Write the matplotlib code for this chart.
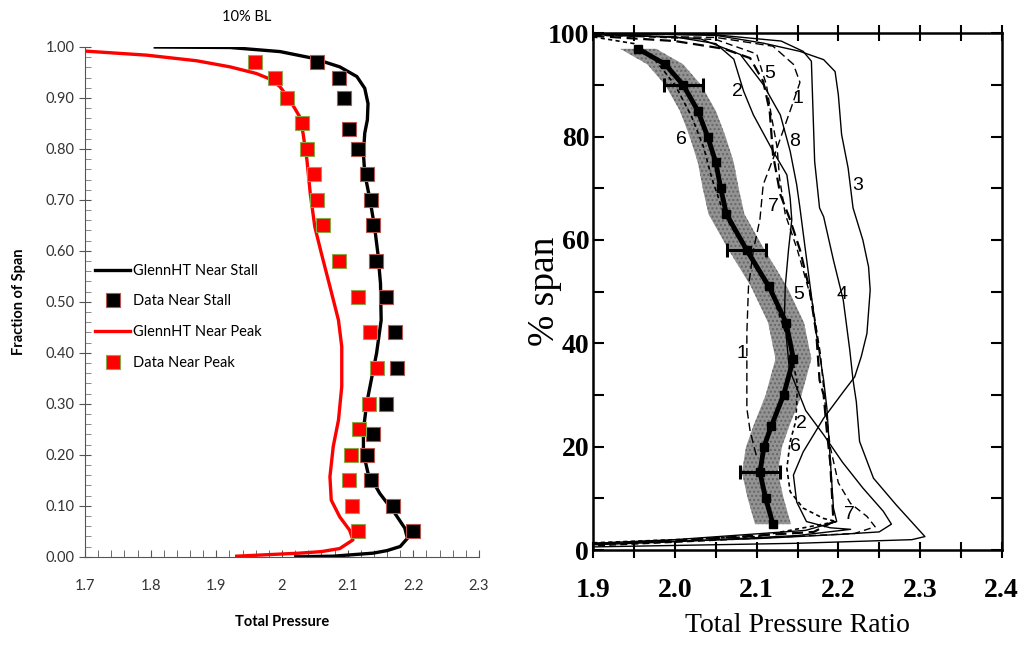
import numpy as np
import matplotlib
matplotlib.use("Agg")
import matplotlib.pyplot as plt
from matplotlib.ticker import MultipleLocator, FormatStrFormatter, FuncFormatter

# ---------------- left panel data (10% BL) ----------------
data_span = [0.97, 0.94, 0.90, 0.84, 0.80, 0.75, 0.70, 0.65, 0.58, 0.51,
             0.44, 0.37, 0.30, 0.24, 0.20, 0.15, 0.10, 0.05]
data_stall = [2.053, 2.087, 2.095, 2.102, 2.116, 2.129, 2.135, 2.138, 2.143, 2.159,
              2.172, 2.175, 2.158, 2.139, 2.129, 2.136, 2.169, 2.200]
peak_span = [0.97, 0.94, 0.90, 0.85, 0.80, 0.75, 0.70, 0.65, 0.58, 0.51,
             0.44, 0.37, 0.30, 0.25, 0.20, 0.15, 0.10, 0.05]
data_peak = [1.959, 1.990, 2.008, 2.031, 2.038, 2.049, 2.054, 2.063, 2.087, 2.116,
             2.134, 2.144, 2.133, 2.118, 2.105, 2.102, 2.106, 2.116]

cfd_stall_p = [1.807, 1.921, 1.997, 2.047, 2.088, 2.114, 2.126, 2.131, 2.130, 2.126,
               2.124, 2.126, 2.134, 2.141, 2.146, 2.150, 2.151, 2.144, 2.136, 2.129,
               2.124, 2.124, 2.131, 2.149, 2.172, 2.187, 2.191, 2.180, 2.160, 2.139,
               2.078, 2.021]
cfd_stall_s = [1.000, 0.999, 0.991, 0.978, 0.961, 0.942, 0.919, 0.889, 0.857, 0.831,
               0.791, 0.752, 0.700, 0.647, 0.595, 0.536, 0.464, 0.399, 0.347, 0.301,
               0.249, 0.203, 0.164, 0.124, 0.085, 0.056, 0.036, 0.020, 0.012, 0.007,
               0.001, 0.000]
cfd_peak_p = [1.700, 1.794, 1.870, 1.921, 1.961, 1.982, 1.997, 2.012, 2.027, 2.032,
              2.038, 2.043, 2.050, 2.060, 2.073, 2.086, 2.091, 2.091, 2.086, 2.078,
              2.073, 2.075, 2.088, 2.103, 2.108, 2.088, 2.060, 2.027, 1.931]
cfd_peak_s = [0.992, 0.984, 0.973, 0.961, 0.948, 0.937, 0.922, 0.896, 0.863, 0.831,
              0.778, 0.713, 0.647, 0.595, 0.530, 0.464, 0.412, 0.334, 0.268, 0.216,
              0.157, 0.111, 0.078, 0.052, 0.033, 0.016, 0.010, 0.007, 0.001]

# ---------------- right panel data (% span vs total pressure ratio) ----------------
meas_span = [97, 94, 90, 85, 80, 75, 70, 65, 58, 51, 44, 37, 30, 24, 20, 15, 10, 5]
meas_pr = [1.955, 1.988, 2.010, 2.028, 2.040, 2.050, 2.056, 2.063, 2.088, 2.115,
           2.136, 2.145, 2.133, 2.118, 2.109, 2.104, 2.111, 2.120]
band_half = 0.022
err_span = [90, 58, 15]
err_pr = [2.010, 2.088, 2.104]
err_half = 0.024

c1_x = [1.90, 2.05, 2.12, 2.145, 2.153, 2.141, 2.122, 2.108, 2.104, 2.096, 2.090, 2.088, 2.088, 2.088, 2.092, 2.10]
c1_y = [99.6, 99.2, 97.5, 94, 90.5, 85, 76.5, 70.7, 64, 58, 51, 42, 33.5, 27.4, 23, 18]
c2_x = [1.90, 2.00, 2.05, 2.072, 2.084, 2.096, 2.120, 2.137, 2.141, 2.143, 2.139, 2.135, 2.134,
        2.140, 2.160, 2.182, 2.205, 2.230, 2.255, 2.265, 2.25, 2.20, 2.10, 1.90]
c2_y = [99.8, 99.3, 98, 95, 88.8, 84.2, 77.2, 72.6, 68.1, 63.9, 58.1, 51, 45.2,
        35, 27, 22.3, 17, 12, 7.5, 5, 3.5, 3.0, 2.2, 1.2]
c3_x = [1.90, 2.05, 2.108, 2.153, 2.182, 2.196, 2.200, 2.204, 2.212, 2.218, 2.230, 2.237, 2.239,
        2.235, 2.228, 2.220, 2.206, 2.182, 2.157, 2.145, 2.149, 2.161, 2.19, 2.215, 2.15, 2.0, 1.90]
c3_y = [100, 99.6, 98.1, 96.5, 94.9, 92.6, 88.1, 80.4, 73.9, 66.2, 60, 54.8, 50.3,
        41.9, 37.4, 33.5, 30.6, 25.5, 19.0, 14.5, 9.3, 5.5, 4.3, 4.0, 2.8, 1.6, 1.0]
c4_x = [1.90, 2.05, 2.13, 2.157, 2.167, 2.169, 2.171, 2.177, 2.182, 2.194, 2.206, 2.214, 2.218,
        2.222, 2.226, 2.243, 2.271, 2.306, 2.29, 2.15, 1.90]
c4_y = [100, 99.7, 98.5, 96.5, 94.6, 84.9, 75.2, 66.2, 64.5, 56.1, 48.4, 38.7, 32.9,
        28.7, 21.0, 13.9, 8.7, 2.6, 2.0, 1.3, 0.6]
c5_x = [1.90, 2.00, 2.06, 2.092, 2.108, 2.116, 2.120, 2.129, 2.141, 2.153, 2.165, 2.173, 2.177,
        2.182, 2.186, 2.190, 2.194, 2.17, 2.0, 1.90]
c5_y = [99.5, 98.5, 97, 95.2, 90.7, 84.9, 76.5, 68.8, 63.9, 58.1, 50.3, 41.9, 32.9,
        30, 22.9, 17.1, 5.5, 3.5, 1.8, 1.2]
c6_x = [1.90, 1.95, 1.975, 2.00, 2.02, 2.035, 2.045, 2.06, 2.09, 2.12, 2.14, 2.15, 2.148,
        2.141, 2.137, 2.141, 2.157, 2.182, 2.198, 2.10, 1.90]
c6_y = [99.3, 98, 95, 90, 84, 78, 72, 65, 57, 49, 40, 32, 25,
        21, 15.8, 11.3, 8.1, 6.1, 5.5, 2.6, 1.4]
c7_x = [1.90, 2.05, 2.10, 2.112, 2.118, 2.125, 2.128, 2.135, 2.150, 2.168, 2.178, 2.184, 2.19,
        2.20, 2.215, 2.235, 2.245, 2.22, 2.0, 1.90]
c7_y = [99.7, 98.8, 96, 90, 84, 78, 72, 65, 58, 48, 38, 28, 20,
        13, 9, 6.5, 4.5, 3.2, 1.5, 0.8]
c8_x = [1.90, 2.03, 2.08, 2.108, 2.129, 2.141, 2.149, 2.153, 2.157, 2.165, 2.173, 2.182, 2.186,
        2.190, 2.194, 2.198, 2.16, 2.0, 1.90]
c8_y = [99.9, 99.0, 95.9, 90.1, 84.2, 77.2, 70.7, 66.2, 61.3, 51.6, 41.9, 32.9, 27.4,
        17.7, 8.1, 5.5, 3.8, 2.0, 1.3]

curve_labels = ["5", "2", "1", "6", "8", "3", "7", "5", "4", "1", "2", "6", "7"]
label_x = [2.116, 2.077, 2.151, 2.008, 2.147, 2.224, 2.120, 2.151, 2.204, 2.082, 2.155, 2.147, 2.214]
label_y = [92.3, 88.7, 87.4, 79.4, 79.0, 70.6, 66.4, 49.4, 49.4, 38.1, 24.5, 20.0, 6.8]

W, H = 1021, 645
fig = plt.figure(figsize=(W / 100, H / 100), dpi=100)

# ================= left panel =================
sans = "Lato"
ax = fig.add_axes([85 / W, 1 - 556.7 / H, (479 - 85) / W, (556.7 - 47) / H])
ax.plot(cfd_stall_p, cfd_stall_s, color="black", lw=2.4, label="GlennHT Near Stall")
ax.plot(data_stall, data_span, ls="none", marker="s", ms=10.5, mfc="black",
        mec="#b5554f", mew=0.8, label="Data Near Stall")
ax.plot(cfd_peak_p, cfd_peak_s, color="red", lw=2.4, label="GlennHT Near Peak")
ax.plot(data_peak, peak_span, ls="none", marker="s", ms=10.5, mfc="red",
        mec="#8aa84a", mew=0.8, label="Data Near Peak")
ax.set_xlim(1.7, 2.3)
ax.set_ylim(0, 1.0)
ax.spines["top"].set_visible(False)
ax.spines["right"].set_visible(False)
for s in ("left", "bottom"):
    ax.spines[s].set_color("#555555")
ax.xaxis.set_major_locator(MultipleLocator(0.1))
ax.xaxis.set_minor_locator(MultipleLocator(0.02))
ax.yaxis.set_major_locator(MultipleLocator(0.1))
ax.yaxis.set_minor_locator(MultipleLocator(0.02))
ax.xaxis.set_major_formatter(FuncFormatter(lambda v, p: f"{v:g}"))
ax.yaxis.set_major_formatter(FormatStrFormatter("%.2f"))
ax.tick_params(axis="x", which="both", direction="in", length=5, color="#555555",
               labelsize=10.5, pad=16)
ax.tick_params(axis="y", which="major", direction="inout", length=8, color="#555555",
               labelsize=10.5)
ax.tick_params(axis="y", which="minor", direction="in", length=4, color="#777777")
for t in ax.get_xticklabels() + ax.get_yticklabels():
    t.set_family(sans)
    t.set_color("#333333")
ax.set_xlabel("Total Pressure", fontsize=10.5, fontweight="bold", family=sans, labelpad=16)
ax.set_ylabel("Fraction of Span", fontsize=10.5, fontweight="bold", family=sans, labelpad=14)
ax.set_title("10% BL", fontsize=10.5, family=sans, pad=19, x=0.41)
ax.legend(loc="upper left", bbox_to_anchor=(0.0, 0.595), frameon=False,
          prop={"family": sans, "size": 10.5}, handlelength=2.4, handletextpad=0.2,
          labelspacing=1.15, borderaxespad=0.3)

# ================= right panel =================
serif = "Liberation Serif"
ax2 = fig.add_axes([593.3 / W, 1 - 550 / H, (1001.7 - 593.3) / W, (550 - 33.3) / H])
ax2.set_xlim(1.9, 2.4)
ax2.set_ylim(0, 100)

span = np.array(meas_span)
pr = np.array(meas_pr)
ax2.fill_betweenx(span, pr - band_half, pr + band_half, color="#939393",
                  hatch="....", edgecolor="#666666", linewidth=0, zorder=2)

ax2.plot(c1_x, c1_y, color="black", lw=1.0, dashes=(6, 3), zorder=3)
ax2.plot(c2_x, c2_y, color="black", lw=1.0, zorder=3)
ax2.plot(c3_x, c3_y, color="black", lw=1.0, zorder=3)
ax2.plot(c4_x, c4_y, color="black", lw=1.0, zorder=3)
ax2.plot(c5_x, c5_y, color="black", lw=1.6, dashes=(5, 2.5), zorder=3)
ax2.plot(c6_x, c6_y, color="black", lw=1.2, dashes=(2.5, 2), zorder=3)
ax2.plot(c7_x, c7_y, color="black", lw=1.0, dashes=(5, 3), zorder=3)
ax2.plot(c8_x, c8_y, color="black", lw=1.0, zorder=3)

ax2.plot(meas_pr, meas_span, color="black", lw=3.5, marker="s", ms=6, zorder=4)
ax2.errorbar(err_pr, err_span, xerr=err_half, fmt="none", ecolor="black",
             elinewidth=2.2, capsize=5, capthick=2.2, zorder=5)

for txt, x, y in zip(curve_labels, label_x, label_y):
    ax2.text(x, y, txt, fontsize=14, family="Liberation Sans", ha="center",
             va="center", zorder=6)

for s in ax2.spines.values():
    s.set_linewidth(1.8)
ax2.xaxis.set_major_locator(MultipleLocator(0.1))
ax2.xaxis.set_minor_locator(MultipleLocator(0.05))
ax2.yaxis.set_major_locator(MultipleLocator(20))
ax2.yaxis.set_minor_locator(MultipleLocator(10))
ax2.xaxis.set_major_formatter(FormatStrFormatter("%.1f"))
ax2.tick_params(which="both", top=True, right=True, width=1.5)
ax2.tick_params(axis="x", which="both", direction="inout", length=12)
ax2.tick_params(axis="y", which="both", direction="in", length=8)
ax2.tick_params(axis="x", labelsize=20, pad=14)
ax2.tick_params(axis="y", labelsize=20, pad=3)
for t in ax2.get_xticklabels() + ax2.get_yticklabels():
    t.set_family(serif)
    t.set_fontweight("bold")
ax2.set_xlabel("Total Pressure Ratio", fontsize=20, family=serif, labelpad=7)
ax2.set_ylabel("% span", fontsize=27, family=serif, labelpad=-10)

fig.savefig("out.png", dpi=100)
